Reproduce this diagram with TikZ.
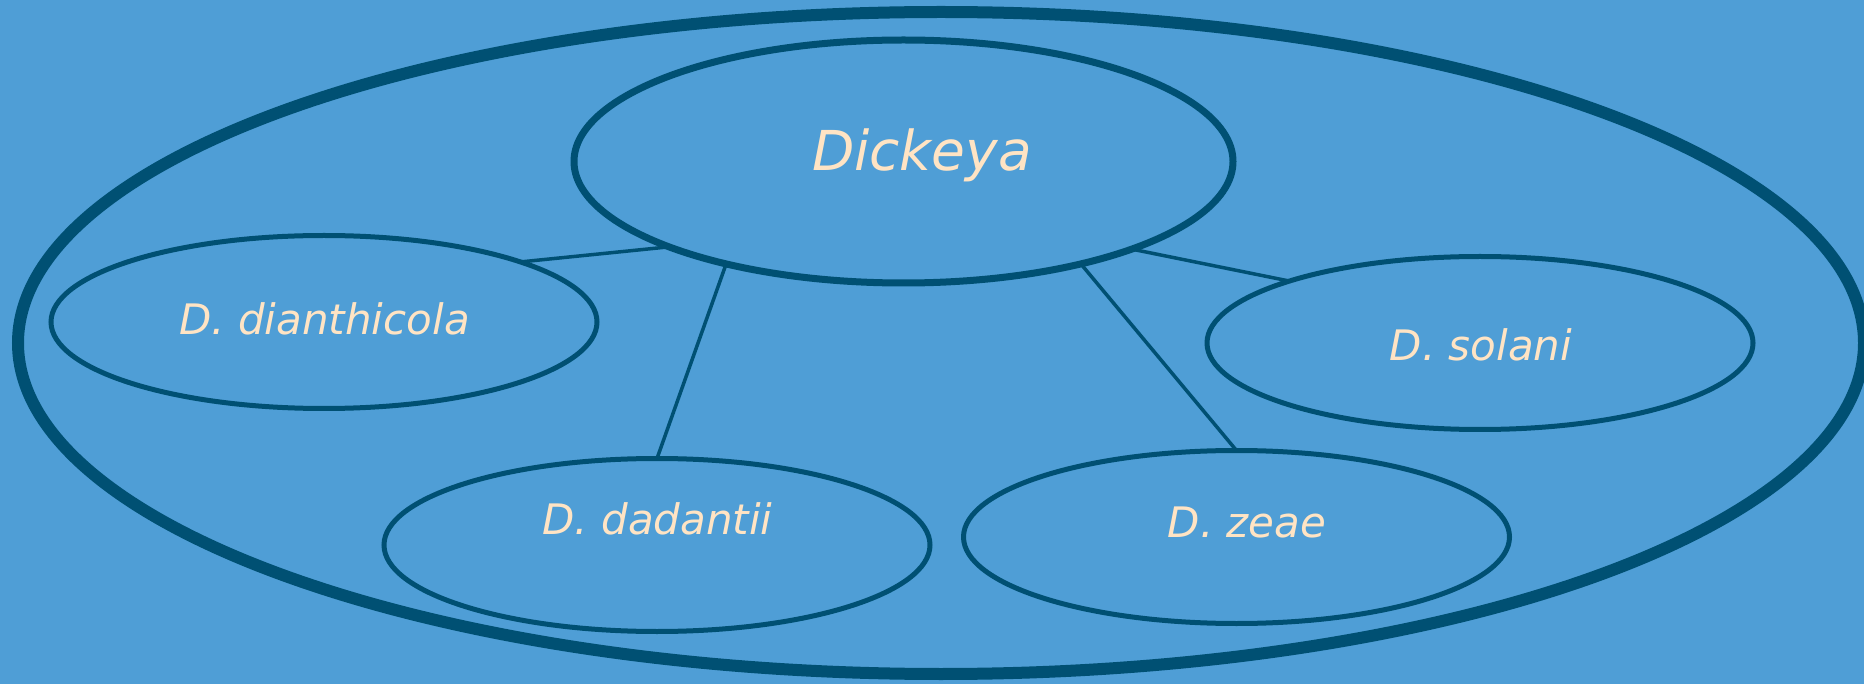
\documentclass[tikz,border=0pt]{standalone}
\usepackage{fontspec}
\setmainfont{DejaVu Sans}
\usetikzlibrary{shapes.geometric}
\definecolor{bgblue}{HTML}{4F9ED6}
\definecolor{rim}{HTML}{005073}
\definecolor{labeltext}{HTML}{FFE4C4}
\begin{document}
\begin{tikzpicture}[x=1pt,y=-1pt,
  oval/.style={ellipse, draw=rim, inner sep=0pt, outer sep=0pt},
  enclosure/.style={oval, line width=12pt, minimum width=1846pt, minimum height=662pt},
  genusoval/.style={oval, line width=7pt, minimum width=659pt, minimum height=243pt},
  speciesoval/.style={oval, line width=5pt, minimum width=546pt, minimum height=173pt},
  taxlabel/.style={text=labeltext, anchor=base, inner sep=0pt,
    font=\itshape\fontsize{42}{50}\selectfont},
  biglabel/.style={taxlabel, font=\itshape\fontsize{55}{66}\selectfont},
  link/.style={draw=rim, line width=3.5pt}]
  % canvas
  \fill[bgblue] (0,0) rectangle (1864,684);
  \useasboundingbox (0,0) rectangle (1864,684);
  \clip (0,0) rectangle (1864,684);
  % enclosing oval (runs just past the right edge)
  \node[enclosure] (all) at (941,343) {};
  % genus and species ovals
  \node[genusoval] (dickeya) at (903.5,161.5) {};
  \node[speciesoval] (dianthicola) at (324,322) {};
  \node[speciesoval] (solani) at (1480,343) {};
  \node[speciesoval] (dadantii) at (657,545) {};
  \node[speciesoval] (zeae) at (1236.5,537) {};
  % links from each species to the genus
  \draw[link] (dianthicola.17.8) -- (dickeya.200.6);
  \draw[link] (dadantii.north) -- (dickeya.210.4);
  \draw[link] (zeae.north) -- (dickeya.330.2);
  \draw[link] (solani.162.6) -- (dickeya.339.8);
  % names
  \node[biglabel] (dickeyaname) at (922,171) {Dickeya};
  \node[taxlabel] (dianthicolaname) at (324.5,335) {D. dianthicola};
  \node[taxlabel] (solaniname) at (1481,361) {D. solani};
  \node[taxlabel] (dadantiiname) at (657.5,534) {D. dadantii};
  \node[taxlabel] (zeaename) at (1247,537) {D. zeae};
\end{tikzpicture}
\end{document}
